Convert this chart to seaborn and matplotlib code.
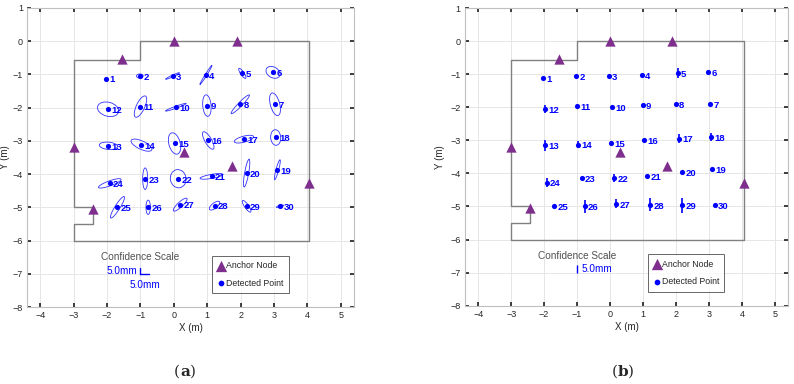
import matplotlib
matplotlib.use("Agg")
import matplotlib.pyplot as plt
import seaborn as sns
import numpy as np
import pandas as pd
from matplotlib.patches import Ellipse

# detected points (same for both panels), id 1..30
pt_id = list(range(1, 31))
pt_x = [-2.02, -1.02, -0.04, 0.96, 2.05, 2.97, 3.03, 1.99, 0.99, 0.06, -1.00, -1.97,
        -1.96, -0.97, 0.02, 1.03, 2.10, 3.05, 3.10, 2.18, 1.13, 0.13, -0.86, -1.92,
        -1.69, -0.77, 0.19, 1.22, 2.18, 3.18]
pt_y = [-1.13, -1.05, -1.05, -1.02, -0.97, -0.94, -1.90, -1.90, -1.94, -1.99, -1.97, -2.05,
        -3.15, -3.13, -3.08, -2.99, -2.95, -2.90, -3.87, -3.97, -4.07, -4.14, -4.14, -4.28,
        -5.00, -5.00, -4.92, -4.95, -4.97, -4.97]

# confidence ellipses for (a): full major, full minor, angle (deg)
ell_w = [0.05, 0.20, 0.46, 0.68, 0.36, 0.45, 0.70, 0.78, 0.65, 0.66, 0.70, 0.65,
         0.55, 0.68, 0.66, 0.60, 0.60, 0.47, 0.62, 0.85, 0.70, 0.55, 0.65, 0.72,
         0.76, 0.43, 0.55, 0.38, 0.42, 0.22]
ell_h = [0.05, 0.12, 0.05, 0.05, 0.10, 0.32, 0.28, 0.12, 0.25, 0.06, 0.25, 0.42,
         0.22, 0.25, 0.34, 0.20, 0.18, 0.30, 0.08, 0.12, 0.12, 0.47, 0.15, 0.15,
         0.15, 0.13, 0.15, 0.16, 0.12, 0.06]
ell_ang = [0, 0, 25, 58, -56, -30, 105, 46, 95, 20, 65, -15,
           -5, -25, 105, 120, 15, 95, 75, 80, 10, 100, 90, 20,
           58, 90, 43, 38, -55, 15]

# vertical confidence bars for (b): full length
bar_len = [0.0, 0.0, 0.0, 0.0, 0.30, 0.08, 0.06, 0.0, 0.0, 0.0, 0.0, 0.22,
           0.32, 0.23, 0.10, 0.0, 0.28, 0.26, 0.0, 0.0, 0.0, 0.26, 0.0, 0.27,
           0.0, 0.38, 0.28, 0.40, 0.45, 0.0]

# anchor nodes
anc_x = [-1.55, 0.0, 1.88, -3.0, 0.30, 1.74, 4.06, -2.42]
anc_y = [-0.55, 0.0, 0.0, -3.20, -3.34, -3.77, -4.28, -5.05]

# room outline
room_x = [-3, -1, -1, 4.06, 4.06, -3, -3, -2.42, -2.42, -3, -3]
room_y = [-0.58, -0.58, 0, 0, -6, -6, -5.5, -5.5, -5.0, -5.0, -0.58]

pts = pd.DataFrame({"id": pt_id, "x": pt_x, "y": pt_y})
anc = pd.DataFrame({"x": anc_x, "y": anc_y})

sns.set_theme(style="whitegrid")
plt.rcParams["font.family"] = ["Liberation Sans", "DejaVu Sans"]
plt.rcParams["axes.unicode_minus"] = True

fig = plt.figure(figsize=(7.94, 3.84), dpi=100)
ax_a = fig.add_axes([0.034, 0.2005, 0.412, 0.779])
ax_b = fig.add_axes([0.5856, 0.204, 0.407, 0.775])

blue = "#0000ff"
purple = "#7e2f8e"

for ax, panel in [(ax_a, "a"), (ax_b, "b")]:
    ax.set_facecolor("white")
    ax.plot(room_x, room_y, color="#808080", lw=1.0, zorder=2)
    if panel == "a":
        for i in range(len(pt_x)):
            ax.add_patch(Ellipse((pt_x[i], pt_y[i]), ell_w[i], ell_h[i], angle=ell_ang[i],
                                 fill=False, ec="#3030ff", lw=0.6, zorder=3))
    else:
        for i in range(len(pt_x)):
            if bar_len[i] > 0:
                ax.vlines(pt_x[i], pt_y[i] - bar_len[i] / 2, pt_y[i] + bar_len[i] / 2,
                          color=blue, lw=1.2, zorder=3)
    sns.scatterplot(data=anc, x="x", y="y", marker="^", color=purple, s=55,
                    edgecolor=purple, linewidth=0, ax=ax, zorder=5, label="Anchor Node")
    sns.scatterplot(data=pts, x="x", y="y", marker="o", color=blue, s=14,
                    edgecolor=blue, linewidth=0, ax=ax, zorder=6, label="Detected Point")
    for i in range(len(pt_x)):
        ax.text(pt_x[i] + 0.1, pt_y[i] - 0.04, str(pt_id[i]), color=blue, fontsize=6.8,
                fontweight="bold", va="center", ha="left", zorder=7)

    ax.set_xlim(-4.4, 5.4)
    ax.set_ylim(-8, 1)
    ax.set_xticks(range(-4, 6))
    ax.set_yticks(range(-8, 2))
    ax.grid(True, color="#e6e6e6", lw=0.7)
    ax.tick_params(axis="both", labelsize=6.5, colors="#262626", direction="in", length=3,
                   pad=3, bottom=True, left=True, top=True, right=True)
    for sp in ax.spines.values():
        sp.set_color("#bfbfbf")
        sp.set_linewidth(0.8)
    ax.set_xlabel("X (m)", fontsize=7, color="#262626", labelpad=2)
    ax.set_ylabel("Y (m)", fontsize=7, color="#262626")

    ax.text(-1.0, -6.49, "Confidence Scale", color="#505050", fontsize=7.2, ha="center", va="center")
    leg = ax.legend(loc="lower left", bbox_to_anchor=(0.566, 0.047), fontsize=6.3,
                    frameon=True, fancybox=False, handletextpad=0.1, borderpad=0.6,
                    labelspacing=1.0, handlelength=0.9, borderaxespad=0, markerscale=1.1)
    leg.get_frame().set_edgecolor("#404040")
    leg.get_frame().set_linewidth(0.7)

ax_a.yaxis.set_label_coords(-0.052, 0.5)
ax_b.yaxis.set_label_coords(-0.062, 0.5)

# scale markers
ax_a.text(-2.03, -6.93, "5.0mm", color=blue, fontsize=7.2, ha="left", va="center")
ax_a.plot([-1.0, -1.0, -0.75], [-6.82, -7.0, -7.0], color=blue, lw=1.0)
ax_a.text(-0.87, -7.35, "5.0mm", color=blue, fontsize=7.2, ha="center", va="center")
ax_b.vlines(-1.0, -7.0, -6.77, color=blue, lw=1.0)
ax_b.text(-0.86, -6.89, "5.0mm", color=blue, fontsize=7.2, ha="left", va="center")

fig.text(0.227, 0.031, "(", fontsize=11, family="DejaVu Serif", ha="right", va="center")
fig.text(0.227, 0.031, "a", fontsize=11, family="DejaVu Serif", fontweight="bold", ha="left", va="center")
fig.text(0.2395, 0.031, ")", fontsize=11, family="DejaVu Serif", ha="left", va="center")
fig.text(0.778, 0.031, "(", fontsize=11, family="DejaVu Serif", ha="right", va="center")
fig.text(0.778, 0.031, "b", fontsize=11, family="DejaVu Serif", fontweight="bold", ha="left", va="center")
fig.text(0.7905, 0.031, ")", fontsize=11, family="DejaVu Serif", ha="left", va="center")

fig.savefig("out.png", dpi=100)
